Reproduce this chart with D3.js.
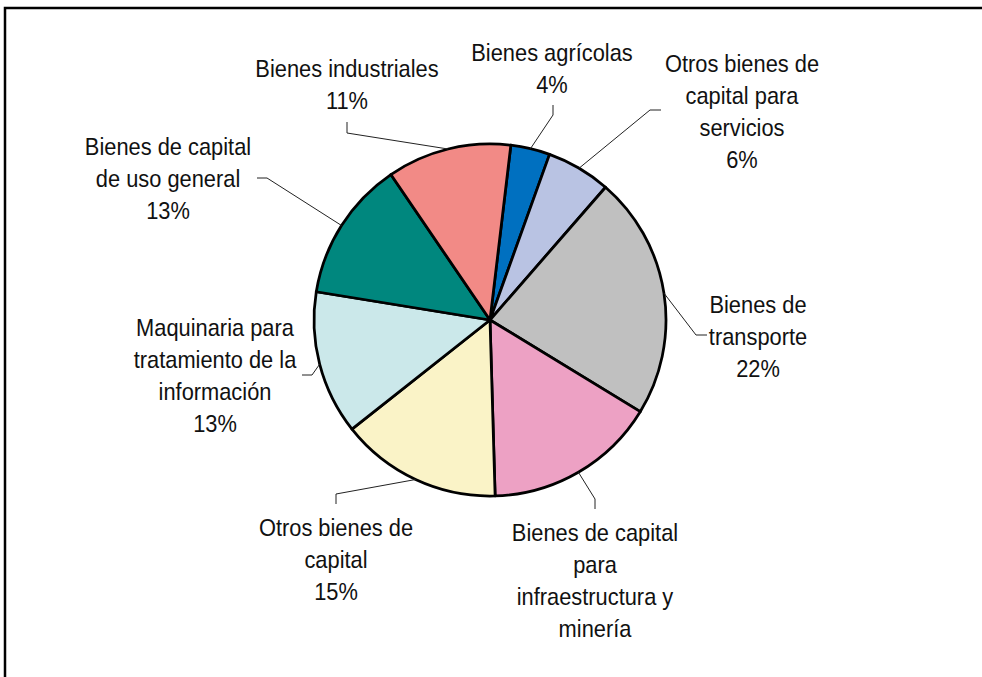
<!DOCTYPE html>
<html>
<head>
<meta charset="utf-8">
<script src="https://cdn.jsdelivr.net/npm/d3@7"></script>
<style>
  body { margin: 0; background: #fff; }
  text { font-family: "Liberation Sans", Arial, sans-serif; font-size: 24px; fill: #111; }
</style>
</head>
<body>
<script>
// Slice data, clockwise from the top
var categories = [
  "Bienes agrícolas",
  "Otros bienes de capital para servicios",
  "Bienes de transporte",
  "Bienes de capital para infraestructura y minería",
  "Otros bienes de capital",
  "Maquinaria para tratamiento de la información",
  "Bienes de capital de uso general",
  "Bienes industriales"
];
var shares = [3.6, 5.9, 22.3, 15.8, 14.8, 13.2, 12.9, 11.4];
var pctLabels = ["4%", "6%", "22%", "", "15%", "13%", "13%", "11%"];
var labelLines = [
  ["Bienes agrícolas"],
  ["Otros bienes de", "capital para", "servicios"],
  ["Bienes de", "transporte"],
  ["Bienes de capital", "para", "infraestructura y", "minería"],
  ["Otros bienes de", "capital"],
  ["Maquinaria para", "tratamiento de la", "información"],
  ["Bienes de capital", "de uso general"],
  ["Bienes industriales"]
];

var colors = ["#0070c0", "#b9c3e3", "#c0c0c0", "#eda1c4", "#faf3c7", "#cbe8ea", "#00877e", "#f28a86"];

// label placement: centre x, first baseline, leader elbow and end
var layout = [
  {x: 552, y: 61,  elbow: [553, 115], end: [553, 105]},
  {x: 742, y: 72,  elbow: [650, 110], end: [661, 110]},
  {x: 758, y: 313, elbow: [696, 335], end: [707, 335]},
  {x: 595, y: 541, elbow: [595, 499], end: [595, 509]},
  {x: 336, y: 536, elbow: [336, 494], end: [336, 504]},
  {x: 215, y: 336, elbow: [312, 375], end: [302, 375]},
  {x: 168, y: 155, elbow: [267, 178], end: [257, 178]},
  {x: 347, y: 77,  elbow: [347, 133], end: [347, 122]}
];

var width = 982, height = 677,
    cx = 490, cy = 320, radius = 176,
    lineStep = 32,
    start = 6.8 * Math.PI / 180;

var svg = d3.select("body")
  .append("svg")
    .attr("width", width)
    .attr("height", height);

// frame (open at right and bottom)
svg.append("path")
  .attr("d", "M5," + height + "V8H" + width)
  .attr("fill", "none")
  .attr("stroke", "#000")
  .attr("stroke-width", 2.5);

var pie = d3.pie()
  .sort(null)
  .value(function(d) { return d; })
  .startAngle(start)
  .endAngle(start + 2 * Math.PI);

var arc = d3.arc().innerRadius(0).outerRadius(radius);

var arcs = pie(shares);

var g = svg.append("g")
  .attr("transform", "translate(" + cx + "," + cy + ")");

g.selectAll(".slice")
  .data(arcs)
  .enter()
  .append("path")
    .attr("class", "slice")
    .attr("d", arc)
    .attr("fill", function(d, i) { return colors[i]; })
    .attr("stroke", "#000")
    .attr("stroke-width", 2.75)
    .attr("stroke-linejoin", "round");

// leader lines from the middle of each arc
svg.selectAll(".leader")
  .data(arcs)
  .enter()
  .append("polyline")
    .attr("class", "leader")
    .attr("fill", "none")
    .attr("stroke", "#222")
    .attr("stroke-width", 1)
    .attr("points", function(d, i) {
      var a = (d.startAngle + d.endAngle) / 2;
      var p = [cx + radius * Math.sin(a), cy - radius * Math.cos(a)];
      return [p, layout[i].elbow, layout[i].end].map(function(q) { return q.join(","); }).join(" ");
    });

// labels
var labels = svg.selectAll(".label")
  .data(categories)
  .enter()
  .append("g")
    .attr("class", "label")
    .attr("transform", function(d, i) {
      return "translate(" + layout[i].x + "," + layout[i].y + ") scale(0.91,1)";
    });

labels.append("text")
  .attr("text-anchor", "middle")
  .each(function(d, i) {
    var lines = labelLines[i].slice();
    if (pctLabels[i]) lines.push(pctLabels[i]);
    var t = d3.select(this);
    lines.forEach(function(s, k) {
      t.append("tspan")
        .attr("x", 0)
        .attr("y", k * lineStep)
        .text(s);
    });
  });
</script>
</body>
</html>
